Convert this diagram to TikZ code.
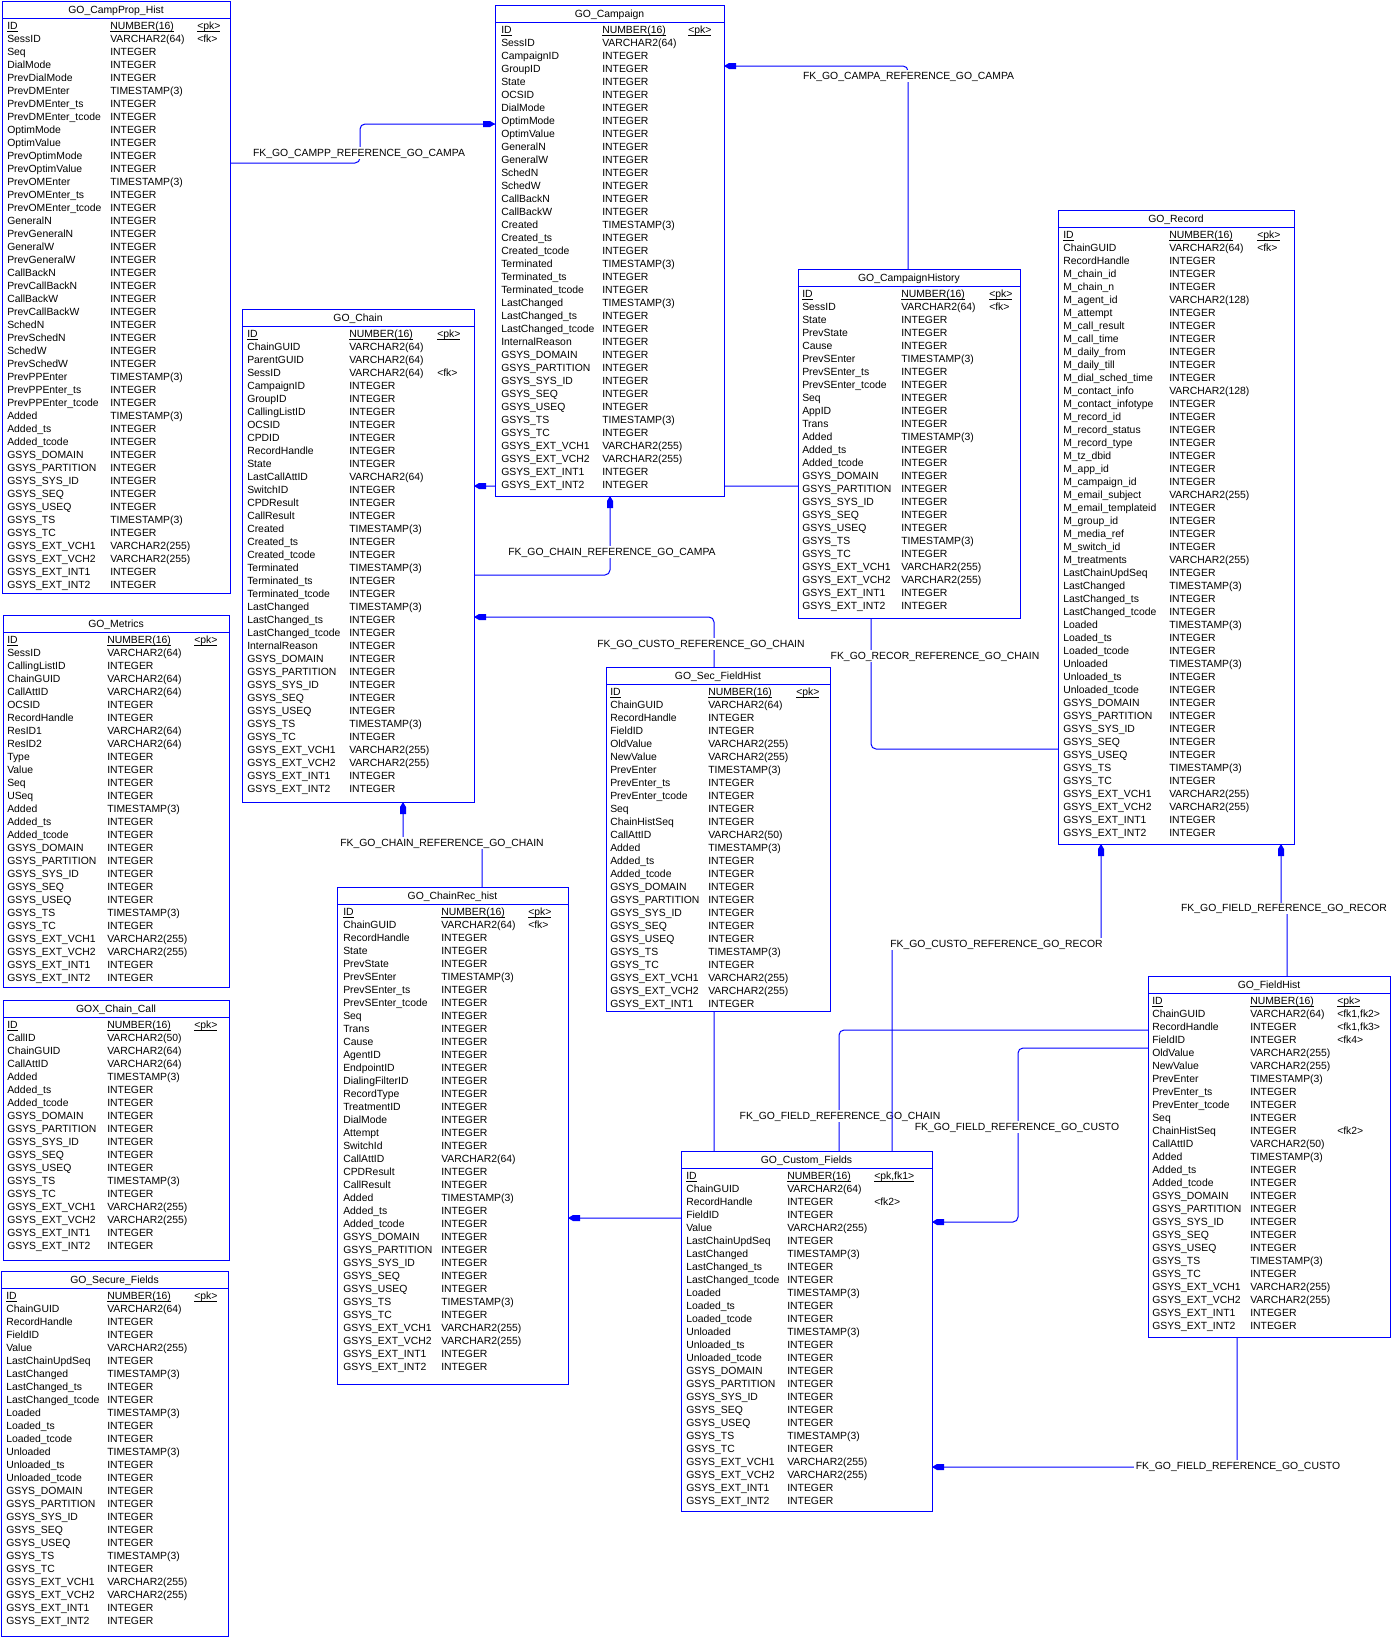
\documentclass[tikz,border=0pt]{standalone}
\usepackage{fontspec}
\setmainfont{Liberation Sans}
\usetikzlibrary{calc}
\pgfdeclarelayer{bg}
\pgfsetlayers{bg,main}
\definecolor{erblue}{RGB}{0,0,255}
\newcount\ERrow
\newcommand\ulx[1]{\setbox0=\hbox{#1}\rlap{\vrule width\wd0 height -1.1pt depth 1.6pt}\box0}
\tikzset{
  tbox/.style={draw=erblue, line width=0.75pt, fill=white, inner sep=0pt, outer sep=0pt, anchor=north west},
  tline/.style={draw=erblue, line width=0.75pt},
  cell/.style={font=\fontsize{7.8}{9}\selectfont, inner sep=0pt, anchor=base west, text=black},
  fk/.style={draw=erblue, line width=0.75pt, rounded corners=3.75pt},
  fklbl/.style={font=\fontsize{7.8}{9}\selectfont, fill=white, inner sep=1.2pt, text height=5.6pt, text depth=0.4pt},
  fkhead/.pic={\fill[erblue] (0,0) -- (-5,3) -- (-12,3) -- (-12,-3) -- (-5,-3) -- cycle;}
}
% #1 name #2 title #3 left #4 top #5 right #6 bottom #7 name x #8 type x #9 key x
\newcommand\ertab[9]{%
  \node[tbox, minimum width={(#5-#3)*0.75pt}, minimum height={(#6-#4)*0.75pt}] (#1) at (#3,#4) {};
  \draw[tline] (#1.west |- 0,#4+17) -- (#1.east |- 0,#4+17);
  \node[cell, anchor=base] (#1-title) at ({(#3+#5)/2},#4+12.7) {#2};
  \gdef\ERname{#1}\gdef\ERtop{#4}\gdef\ERnx{#7}\gdef\ERtx{#8}\gdef\ERkx{#9}%
  \global\ERrow=0 }
\newcommand\ERr[3]{%
  \pgfmathsetmacro\ERy{\ERtop+28.7+13*\the\ERrow}%
  \node[cell] (\ERname-n\the\ERrow) at (\ERnx,\ERy) {#1};
  \node[cell] (\ERname-t\the\ERrow) at (\ERtx,\ERy) {#2};
  \def\ERk{#3}\ifx\ERk\empty\else
  \node[cell] (\ERname-k\the\ERrow) at (\ERkx,\ERy) {#3};\fi
  \global\advance\ERrow by 1\relax}
\newcommand\IDrow[3]{\ERr{\ulx{#1}}{\ulx{#2}}{\ulx{#3}}}
\begin{document}
\catcode`\_=12
\def\GSYSa{%
  \ERr{GSYS_DOMAIN}{INTEGER}{}
  \ERr{GSYS_PARTITION}{INTEGER}{}
  \ERr{GSYS_SYS_ID}{INTEGER}{}
  \ERr{GSYS_SEQ}{INTEGER}{}
  \ERr{GSYS_USEQ}{INTEGER}{}
  \ERr{GSYS_TS}{TIMESTAMP(3)}{}
  \ERr{GSYS_TC}{INTEGER}{}
  \ERr{GSYS_EXT_VCH1}{VARCHAR2(255)}{}
  \ERr{GSYS_EXT_VCH2}{VARCHAR2(255)}{}
  \ERr{GSYS_EXT_INT1}{INTEGER}{}}
\def\GSYS{\GSYSa \ERr{GSYS_EXT_INT2}{INTEGER}{}}
\def\LCL{%
  \ERr{LastChainUpdSeq}{INTEGER}{}
  \ERr{LastChanged}{TIMESTAMP(3)}{}
  \ERr{LastChanged_ts}{INTEGER}{}
  \ERr{LastChanged_tcode}{INTEGER}{}
  \ERr{Loaded}{TIMESTAMP(3)}{}
  \ERr{Loaded_ts}{INTEGER}{}
  \ERr{Loaded_tcode}{INTEGER}{}
  \ERr{Unloaded}{TIMESTAMP(3)}{}
  \ERr{Unloaded_ts}{INTEGER}{}
  \ERr{Unloaded_tcode}{INTEGER}{}}
\def\ADD{%
  \ERr{Added}{TIMESTAMP(3)}{}
  \ERr{Added_ts}{INTEGER}{}
  \ERr{Added_tcode}{INTEGER}{}}
\def\CTL{%
  \ERr{Created}{TIMESTAMP(3)}{}
  \ERr{Created_ts}{INTEGER}{}
  \ERr{Created_tcode}{INTEGER}{}
  \ERr{Terminated}{TIMESTAMP(3)}{}
  \ERr{Terminated_ts}{INTEGER}{}
  \ERr{Terminated_tcode}{INTEGER}{}
  \ERr{LastChanged}{TIMESTAMP(3)}{}
  \ERr{LastChanged_ts}{INTEGER}{}
  \ERr{LastChanged_tcode}{INTEGER}{}
  \ERr{InternalReason}{INTEGER}{}}
\begin{tikzpicture}[x=0.75pt,y=-0.75pt]
\useasboundingbox (0,0) rectangle (1391,1638);

% ---------------- GO_CampProp_Hist
\ertab{cph}{GO_CampProp_Hist}{2}{1}{230}{593}{7}{110}{197}
\IDrow{ID}{NUMBER(16)}{<pk>}
\ERr{SessID}{VARCHAR2(64)}{<fk>}
\ERr{Seq}{INTEGER}{}
\ERr{DialMode}{INTEGER}{}
\ERr{PrevDialMode}{INTEGER}{}
\ERr{PrevDMEnter}{TIMESTAMP(3)}{}
\ERr{PrevDMEnter_ts}{INTEGER}{}
\ERr{PrevDMEnter_tcode}{INTEGER}{}
\ERr{OptimMode}{INTEGER}{}
\ERr{OptimValue}{INTEGER}{}
\ERr{PrevOptimMode}{INTEGER}{}
\ERr{PrevOptimValue}{INTEGER}{}
\ERr{PrevOMEnter}{TIMESTAMP(3)}{}
\ERr{PrevOMEnter_ts}{INTEGER}{}
\ERr{PrevOMEnter_tcode}{INTEGER}{}
\ERr{GeneralN}{INTEGER}{}
\ERr{PrevGeneralN}{INTEGER}{}
\ERr{GeneralW}{INTEGER}{}
\ERr{PrevGeneralW}{INTEGER}{}
\ERr{CallBackN}{INTEGER}{}
\ERr{PrevCallBackN}{INTEGER}{}
\ERr{CallBackW}{INTEGER}{}
\ERr{PrevCallBackW}{INTEGER}{}
\ERr{SchedN}{INTEGER}{}
\ERr{PrevSchedN}{INTEGER}{}
\ERr{SchedW}{INTEGER}{}
\ERr{PrevSchedW}{INTEGER}{}
\ERr{PrevPPEnter}{TIMESTAMP(3)}{}
\ERr{PrevPPEnter_ts}{INTEGER}{}
\ERr{PrevPPEnter_tcode}{INTEGER}{}
\ADD
\GSYS

% ---------------- GO_Campaign
\ertab{cp}{GO_Campaign}{495}{5}{724}{496}{501}{602}{688}
\IDrow{ID}{NUMBER(16)}{<pk>}
\ERr{SessID}{VARCHAR2(64)}{}
\ERr{CampaignID}{INTEGER}{}
\ERr{GroupID}{INTEGER}{}
\ERr{State}{INTEGER}{}
\ERr{OCSID}{INTEGER}{}
\ERr{DialMode}{INTEGER}{}
\ERr{OptimMode}{INTEGER}{}
\ERr{OptimValue}{INTEGER}{}
\ERr{GeneralN}{INTEGER}{}
\ERr{GeneralW}{INTEGER}{}
\ERr{SchedN}{INTEGER}{}
\ERr{SchedW}{INTEGER}{}
\ERr{CallBackN}{INTEGER}{}
\ERr{CallBackW}{INTEGER}{}
\CTL
\GSYS

% ---------------- GO_Chain
\ertab{chain}{GO_Chain}{242}{309}{474}{802}{247}{349}{437}
\IDrow{ID}{NUMBER(16)}{<pk>}
\ERr{ChainGUID}{VARCHAR2(64)}{}
\ERr{ParentGUID}{VARCHAR2(64)}{}
\ERr{SessID}{VARCHAR2(64)}{<fk>}
\ERr{CampaignID}{INTEGER}{}
\ERr{GroupID}{INTEGER}{}
\ERr{CallingListID}{INTEGER}{}
\ERr{OCSID}{INTEGER}{}
\ERr{CPDID}{INTEGER}{}
\ERr{RecordHandle}{INTEGER}{}
\ERr{State}{INTEGER}{}
\ERr{LastCallAttID}{VARCHAR2(64)}{}
\ERr{SwitchID}{INTEGER}{}
\ERr{CPDResult}{INTEGER}{}
\ERr{CallResult}{INTEGER}{}
\CTL
\GSYS

% ---------------- GO_CampaignHistory
\ertab{ch}{GO_CampaignHistory}{798}{269}{1020}{618}{802}{901}{989}
\IDrow{ID}{NUMBER(16)}{<pk>}
\ERr{SessID}{VARCHAR2(64)}{<fk>}
\ERr{State}{INTEGER}{}
\ERr{PrevState}{INTEGER}{}
\ERr{Cause}{INTEGER}{}
\ERr{PrevSEnter}{TIMESTAMP(3)}{}
\ERr{PrevSEnter_ts}{INTEGER}{}
\ERr{PrevSEnter_tcode}{INTEGER}{}
\ERr{Seq}{INTEGER}{}
\ERr{AppID}{INTEGER}{}
\ERr{Trans}{INTEGER}{}
\ADD
\GSYS

% ---------------- GO_Record
\ertab{rec}{GO_Record}{1058}{210}{1294}{844}{1063}{1169}{1257}
\IDrow{ID}{NUMBER(16)}{<pk>}
\ERr{ChainGUID}{VARCHAR2(64)}{<fk>}
\ERr{RecordHandle}{INTEGER}{}
\ERr{M_chain_id}{INTEGER}{}
\ERr{M_chain_n}{INTEGER}{}
\ERr{M_agent_id}{VARCHAR2(128)}{}
\ERr{M_attempt}{INTEGER}{}
\ERr{M_call_result}{INTEGER}{}
\ERr{M_call_time}{INTEGER}{}
\ERr{M_daily_from}{INTEGER}{}
\ERr{M_daily_till}{INTEGER}{}
\ERr{M_dial_sched_time}{INTEGER}{}
\ERr{M_contact_info}{VARCHAR2(128)}{}
\ERr{M_contact_infotype}{INTEGER}{}
\ERr{M_record_id}{INTEGER}{}
\ERr{M_record_status}{INTEGER}{}
\ERr{M_record_type}{INTEGER}{}
\ERr{M_tz_dbid}{INTEGER}{}
\ERr{M_app_id}{INTEGER}{}
\ERr{M_campaign_id}{INTEGER}{}
\ERr{M_email_subject}{VARCHAR2(255)}{}
\ERr{M_email_templateid}{INTEGER}{}
\ERr{M_group_id}{INTEGER}{}
\ERr{M_media_ref}{INTEGER}{}
\ERr{M_switch_id}{INTEGER}{}
\ERr{M_treatments}{VARCHAR2(255)}{}
\ERr{LastChainUpdSeq}{INTEGER}{}
\ERr{LastChanged}{TIMESTAMP(3)}{}
\ERr{LastChanged_ts}{INTEGER}{}
\ERr{LastChanged_tcode}{INTEGER}{}
\ERr{Loaded}{TIMESTAMP(3)}{}
\ERr{Loaded_ts}{INTEGER}{}
\ERr{Loaded_tcode}{INTEGER}{}
\ERr{Unloaded}{TIMESTAMP(3)}{}
\ERr{Unloaded_ts}{INTEGER}{}
\ERr{Unloaded_tcode}{INTEGER}{}
\GSYS

% ---------------- GO_Metrics
\ertab{met}{GO_Metrics}{3}{615}{229}{987}{7}{107}{194}
\IDrow{ID}{NUMBER(16)}{<pk>}
\ERr{SessID}{VARCHAR2(64)}{}
\ERr{CallingListID}{INTEGER}{}
\ERr{ChainGUID}{VARCHAR2(64)}{}
\ERr{CallAttID}{VARCHAR2(64)}{}
\ERr{OCSID}{INTEGER}{}
\ERr{RecordHandle}{INTEGER}{}
\ERr{ResID1}{VARCHAR2(64)}{}
\ERr{ResID2}{VARCHAR2(64)}{}
\ERr{Type}{INTEGER}{}
\ERr{Value}{INTEGER}{}
\ERr{Seq}{INTEGER}{}
\ERr{USeq}{INTEGER}{}
\ADD
\GSYS

% ---------------- GOX_Chain_Call
\ertab{gox}{GOX_Chain_Call}{3}{1000}{229}{1260}{7}{107}{194}
\IDrow{ID}{NUMBER(16)}{<pk>}
\ERr{CallID}{VARCHAR2(50)}{}
\ERr{ChainGUID}{VARCHAR2(64)}{}
\ERr{CallAttID}{VARCHAR2(64)}{}
\ADD
\GSYS

% ---------------- GO_Secure_Fields
\ertab{sf}{GO_Secure_Fields}{1}{1271}{228}{1636}{6}{107}{194}
\IDrow{ID}{NUMBER(16)}{<pk>}
\ERr{ChainGUID}{VARCHAR2(64)}{}
\ERr{RecordHandle}{INTEGER}{}
\ERr{FieldID}{INTEGER}{}
\ERr{Value}{VARCHAR2(255)}{}
\LCL
\GSYS

% ---------------- GO_Sec_FieldHist
\ertab{sfh}{GO_Sec_FieldHist}{606}{667}{830}{1011}{610}{708}{796}
\IDrow{ID}{NUMBER(16)}{<pk>}
\ERr{ChainGUID}{VARCHAR2(64)}{}
\ERr{RecordHandle}{INTEGER}{}
\ERr{FieldID}{INTEGER}{}
\ERr{OldValue}{VARCHAR2(255)}{}
\ERr{NewValue}{VARCHAR2(255)}{}
\ERr{PrevEnter}{TIMESTAMP(3)}{}
\ERr{PrevEnter_ts}{INTEGER}{}
\ERr{PrevEnter_tcode}{INTEGER}{}
\ERr{Seq}{INTEGER}{}
\ERr{ChainHistSeq}{INTEGER}{}
\ERr{CallAttID}{VARCHAR2(50)}{}
\ADD
\GSYSa

% ---------------- GO_ChainRec_hist
\ertab{crh}{GO_ChainRec_hist}{337}{887}{568}{1384}{343}{441}{528}
\IDrow{ID}{NUMBER(16)}{<pk>}
\ERr{ChainGUID}{VARCHAR2(64)}{<fk>}
\ERr{RecordHandle}{INTEGER}{}
\ERr{State}{INTEGER}{}
\ERr{PrevState}{INTEGER}{}
\ERr{PrevSEnter}{TIMESTAMP(3)}{}
\ERr{PrevSEnter_ts}{INTEGER}{}
\ERr{PrevSEnter_tcode}{INTEGER}{}
\ERr{Seq}{INTEGER}{}
\ERr{Trans}{INTEGER}{}
\ERr{Cause}{INTEGER}{}
\ERr{AgentID}{INTEGER}{}
\ERr{EndpointID}{INTEGER}{}
\ERr{DialingFilterID}{INTEGER}{}
\ERr{RecordType}{INTEGER}{}
\ERr{TreatmentID}{INTEGER}{}
\ERr{DialMode}{INTEGER}{}
\ERr{Attempt}{INTEGER}{}
\ERr{SwitchId}{INTEGER}{}
\ERr{CallAttID}{VARCHAR2(64)}{}
\ERr{CPDResult}{INTEGER}{}
\ERr{CallResult}{INTEGER}{}
\ADD
\GSYS

% ---------------- GO_FieldHist
\ertab{fh}{GO_FieldHist}{1148}{976}{1390}{1337}{1152}{1250}{1337}
\IDrow{ID}{NUMBER(16)}{<pk>}
\ERr{ChainGUID}{VARCHAR2(64)}{<fk1,fk2>}
\ERr{RecordHandle}{INTEGER}{<fk1,fk3>}
\ERr{FieldID}{INTEGER}{<fk4>}
\ERr{OldValue}{VARCHAR2(255)}{}
\ERr{NewValue}{VARCHAR2(255)}{}
\ERr{PrevEnter}{TIMESTAMP(3)}{}
\ERr{PrevEnter_ts}{INTEGER}{}
\ERr{PrevEnter_tcode}{INTEGER}{}
\ERr{Seq}{INTEGER}{}
\ERr{ChainHistSeq}{INTEGER}{<fk2>}
\ERr{CallAttID}{VARCHAR2(50)}{}
\ADD
\GSYS

% ---------------- GO_Custom_Fields
\ertab{cf}{GO_Custom_Fields}{681}{1151}{932}{1511}{686}{787}{874}
\IDrow{ID}{NUMBER(16)}{<pk,fk1>}
\ERr{ChainGUID}{VARCHAR2(64)}{}
\ERr{RecordHandle}{INTEGER}{<fk2>}
\ERr{FieldID}{INTEGER}{}
\ERr{Value}{VARCHAR2(255)}{}
\LCL
\GSYS

% ================= connectors (behind the tables)
\begin{pgfonlayer}{bg}
% A
\coordinate (aE) at (cp.west |- 0,124);
\draw[fk] (cph.east |- 0,163) -- (360,163) -- (360,124) -- (aE);
\pic[rotate=0] at (aE) {fkhead};
\node[fklbl] (lA) at (359,153) {FK_GO_CAMPP_REFERENCE_GO_CAMPA};
% B
\coordinate (bE) at (cp.east |- 0,66);
\draw[fk] (ch.north -| 908,0) -- (908,66) -- (bE);
\pic[rotate=180] at (bE) {fkhead};
\node[fklbl] (lB) at (908.6,76) {FK_GO_CAMPA_REFERENCE_GO_CAMPA};
% C
\coordinate (cE) at (cp.south -| 610,0);
\draw[fk] (chain.east |- 0,575) -- (610,575) -- (cE);
\pic[rotate=90] at (cE) {fkhead};
\node[fklbl] (lC) at (612,552) {FK_GO_CHAIN_REFERENCE_GO_CAMPA};
% D
\coordinate (dE) at (chain.east |- 0,486);
\draw[fk] (rec.west |- 0,749) -- (871,749) -- (871,486) -- (dE);
\pic[rotate=180] at (dE) {fkhead};
\node[fklbl] (lD) at (935,656) {FK_GO_RECOR_REFERENCE_GO_CHAIN};
% E
\coordinate (eE) at (chain.east |- 0,617);
\draw[fk] (cf.north -| 714,0) -- (714,617) -- (eE);
\pic[rotate=180] at (eE) {fkhead};
\node[fklbl] (lE) at (701,644) {FK_GO_CUSTO_REFERENCE_GO_CHAIN};
% F
\coordinate (fE) at (chain.south -| 403,0);
\draw[fk] (crh.north -| 482,0) -- (482,843) -- (403,843) -- (fE);
\pic[rotate=90] at (fE) {fkhead};
\node[fklbl] (lF) at (442,843) {FK_GO_CHAIN_REFERENCE_GO_CHAIN};
% I
\coordinate (iE) at (crh.east |- 0,1218);
\draw[fk] (fh.west |- 0,1030) -- (839,1030) -- (839,1218) -- (iE);
\pic[rotate=180] at (iE) {fkhead};
\node[fklbl] (lI) at (840,1116) {FK_GO_FIELD_REFERENCE_GO_CHAIN};
% G
\coordinate (gE) at (rec.south -| 1101,0);
\draw[fk] (cf.north -| 892,0) -- (892,944) -- (1101,944) -- (gE);
\pic[rotate=90] at (gE) {fkhead};
\node[fklbl] (lG) at (996.5,944) {FK_GO_CUSTO_REFERENCE_GO_RECOR};
% H
\coordinate (hE) at (rec.south -| 1281,0);
\draw[fk] (fh.north -| 1287,0) -- (1287,908) -- (1281,908) -- (hE);
\pic[rotate=90] at (hE) {fkhead};
\node[fklbl] (lH) at (1284,908.5) {FK_GO_FIELD_REFERENCE_GO_RECOR};
% J
\coordinate (jE) at (cf.east |- 0,1222);
\draw[fk] (fh.west |- 0,1048) -- (1018,1048) -- (1018,1222) -- (jE);
\pic[rotate=180] at (jE) {fkhead};
\node[fklbl] (lJ) at (1017,1127) {FK_GO_FIELD_REFERENCE_GO_CUSTO};
% K
\coordinate (kE) at (cf.east |- 0,1467);
\draw[fk] (fh.south -| 1237,0) -- (1237,1467) -- (kE);
\pic[rotate=180] at (kE) {fkhead};
\node[fklbl] (lK) at (1238,1466) {FK_GO_FIELD_REFERENCE_GO_CUSTO};
\end{pgfonlayer}
\end{tikzpicture}
\end{document}
